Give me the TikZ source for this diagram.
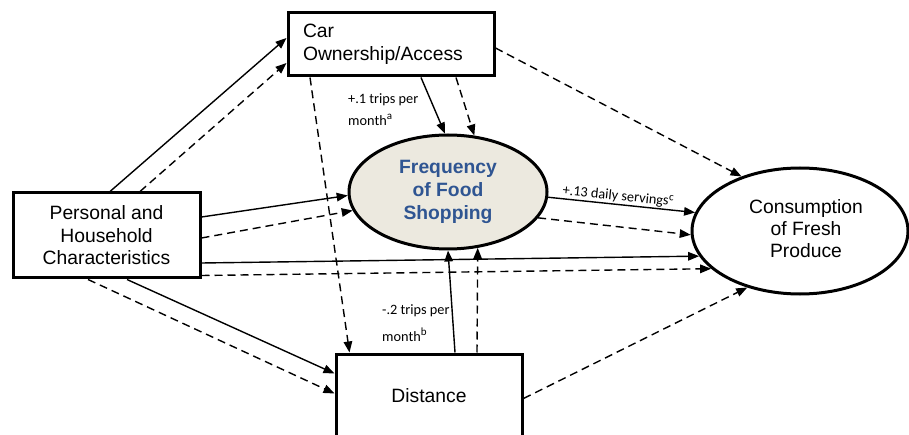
\documentclass[tikz,border=0pt]{standalone}
\usepackage{fontspec}
\setmainfont{Liberation Sans}
\newfontfamily\calib{Carlito}
\usetikzlibrary{arrows.meta,shapes.geometric}
\definecolor{freqfill}{RGB}{236,233,223}
\definecolor{freqtext}{RGB}{47,85,146}
% raised note letter after an effect size
\newcommand{\notemark}[1]{\raisebox{5.5pt}{\fontsize{11}{11}\selectfont #1}}
\begin{document}
\begin{tikzpicture}[x=1pt,y=-1pt,
  box/.style={draw, line width=3pt, rectangle, inner sep=0pt,
    font=\fontsize{19.3}{22.5}\selectfont},
  oval/.style={draw, line width=3pt, ellipse, inner sep=0pt},
  conn/.style={line width=1.4pt, -{Triangle[length=11pt,width=8.5pt]}},
  dconn/.style={conn, dash pattern=on 8pt off 5pt},
  effect/.style={font=\calib\fontsize{14.3}{17}\selectfont, inner sep=0pt, align=left}
]
\useasboundingbox (0,0) rectangle (909,435);
\clip (0,0) rectangle (909,435);

% boxes and ovals
\node[box, minimum width=206pt, minimum height=63pt, text width=176pt, align=left]
  (car) at (391,44.5) {Car\\Ownership/Access};
\node[box, minimum width=187pt, minimum height=85pt, align=center]
  (pers) at (106.5,235.5) {Personal and\\Household\\Characteristics};
\node[box, minimum width=186pt, minimum height=84pt] (dist) at (429,396) {Distance};
\node[oval, fill=freqfill, minimum width=198pt, minimum height=114pt, align=center,
  text=freqtext, font=\bfseries\fontsize{19.3}{23}\selectfont]
  (freq) at (448,192) {Frequency\\of Food\\Shopping};
\node[oval, minimum width=216pt, minimum height=126pt] (cons) at (800,231) {};
\node[align=center, font=\fontsize{19.3}{22}\selectfont, inner sep=0pt]
  (constext) at (806,229) {Consumption\\of Fresh\\Produce};

% personal and household characteristics
\draw[conn]  ([shift={(3.5,0)}]pers.north) -- ([shift={(0,-6.5)}]car.west);
\draw[dconn] ([shift={(33.5,0)}]pers.north) -- ([shift={(0,18.5)}]car.west);
\draw[conn]  ([shift={(0,-18.5)}]pers.east) -- (freq.182);
\draw[dconn] ([shift={(0,2.5)}]pers.east) -- (freq.191);
\draw[conn]  ([shift={(0,27.5)}]pers.east) -- (cons.194);
\draw[dconn] ([shift={(0,40)}]pers.east) -- (cons.203);
\draw[conn]  ([shift={(20.5,0)}]pers.south) -- ([shift={(0,21)}]dist.north west);
\draw[dconn] ([shift={(-18.5,0)}]pers.south) -- ([shift={(0,41)}]dist.north west);

% car ownership
\draw[conn]  ([shift={(30,0)}]car.south) -- (freq.93);
\draw[dconn] ([shift={(65,0)}]car.south) -- (freq.65);
\draw[dconn] ([shift={(-81,0)}]car.south) -- ([shift={(15,0)}]dist.north west);
\draw[dconn] ([shift={(0,3.5)}]car.east) -- (cons.137);

% distance
\draw[conn]  ([shift={(26,0)}]dist.north) -- (freq.270);
\draw[dconn] ([shift={(48,0)}]dist.north) -- (freq.298);
\draw[dconn] ([shift={(0,46)}]dist.north east) -- (cons.227);

% shopping frequency
\draw[conn] (freq.357) -- node[sloped, above=1pt, pos=0.47, effect] (lblserv)
  {+.13 daily servings\notemark{c}} (cons.170);
\draw[dconn] (freq.344) -- (cons.182);

% effect sizes
\node[effect, anchor=north west] (lblcar) at (348,93.5)
  {+.1 trips per\\[4.6pt]month\notemark{a}};
\node[effect, anchor=north west] (lbldist) at (382,304)
  {-.2 trips per\\[10pt]month\notemark{b}};
\end{tikzpicture}
\end{document}
